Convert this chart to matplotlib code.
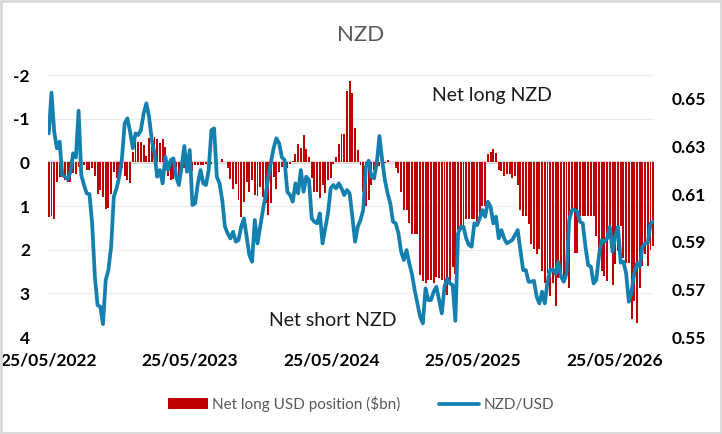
import numpy as np
import pandas as pd
import matplotlib
matplotlib.use("Agg")
import matplotlib.pyplot as plt
from matplotlib.patches import Rectangle
from matplotlib.ticker import FormatStrFormatter
import matplotlib.dates as mdates

plt.rcParams['font.family'] = ['Lato', 'DejaVu Sans']
plt.rcParams['axes.unicode_minus'] = False

# net long USD position vs NZD ($bn), weekly
pos_2022 = [1.26, 1.23, 1.29, 0.44, 0.34, 0.34, 0.40, 0.44, 0.44, 0.25,
            0.26, 0.10, 0.03, 0.05, 0.18, 0.17, 0.13, 0.32, 0.73, 0.64,
            0.80, 1.07, 1.05, 0.72, 0.23, 0.36, 0.22, 0.13, 0.32, 0.41,
            0.48, -0.24, -0.46, -0.47, -0.47, -0.40, -0.15, -0.56, -0.67, -0.58,
            -0.54, -0.44, -0.54, -0.35, 0.31, 0.40]
pos_2023 = [0.38, 0.25, 0.37, 0.21, 0.14, 0.25, 0.29, 0.20, 0.05, 0.05,
            0.06, 0.06, 0.04, 0.04, 0.04, 0.00, 0.06, 0.00, -0.08, 0.00,
            0.14, 0.39, 0.62, 0.50, 0.86, 1.26, 0.90, 0.44, 0.69, 0.40,
            0.75, 0.77, 0.56, 0.79, 0.94, 1.20, 0.92, 0.33, 0.60, 0.21,
            0.10, 0.10, 0.14, 0.04, -0.04, -0.20, -0.42, -0.32, -0.63, -0.30,
            -0.13, 0.37, 0.67, 0.68, 0.82, 0.52, 0.70, 0.40, 0.37, 0.04,
            -0.13, -0.43, -0.66, -0.66, -1.63, -1.86, -1.58, -0.78, -0.28]
pos_2024 = [0.05, 0.67, 1.01, 0.86, 0.51, 0.17, 0.05, 0.09, 0.05, 0.02,
            -0.06, 0.00, 0.00, 0.13, 0.25, 0.67, 1.09, 1.09]
pos_2025 = [1.39, 1.65, 1.65, 1.65, 2.58, 2.71, 2.77, 2.70, 2.70, 2.77,
            2.62, 2.66, 2.70, 2.77, 3.04, 2.77, 2.39, 2.56, 1.55, 1.55,
            1.47, 1.30, 1.30, 1.30, 1.30, 1.39, 1.20, 1.01, 1.01, -0.18,
            -0.23, -0.31, -0.21, 0.17, 0.19, 0.31, 0.26, 0.26, 0.36, 0.31,
            0.51, 1.09, 1.24, 1.22]
pos_2026 = [1.42, 1.86, 1.99, 2.09, 1.99, 2.49, 2.76, 2.53, 3.06, 2.76,
            3.28, 2.64, 2.60, 2.64, 2.68, 2.87, 1.15, 2.07, 2.07, 1.22,
            1.22, 1.22, 1.22, 1.22, 1.22, 1.68, 2.14, 2.49, 2.60, 2.72,
            1.45, 2.80, 2.33, 2.03, 1.45, 2.18, 2.30, 2.30, 3.58, 3.18,
            3.69, 2.87, 2.37, 2.10, 2.37, 2.00, 1.92]

# NZD/USD spot, same weeks
fx_2022 = [0.6355, 0.6526, 0.6362, 0.6292, 0.6320, 0.6180, 0.6173, 0.6162, 0.6194, 0.6271,
           0.6254, 0.6450, 0.6180, 0.6138, 0.6103, 0.6100, 0.5977, 0.5753, 0.5634, 0.5627,
           0.5554, 0.5739, 0.5781, 0.5879, 0.6089, 0.6124, 0.6173, 0.6250, 0.6397, 0.6418,
           0.6362, 0.6292, 0.6355, 0.6348, 0.6369, 0.6439, 0.6481, 0.6425, 0.6327, 0.6271,
           0.6173, 0.6201, 0.6145, 0.6257, 0.6201, 0.6243]
fx_2023 = [0.6250, 0.6173, 0.6138, 0.6215, 0.6302, 0.6194, 0.6285, 0.6054, 0.6061, 0.6145,
           0.6201, 0.6145, 0.6138, 0.6201, 0.6369, 0.6376, 0.6173, 0.6145, 0.6075, 0.5963,
           0.5935, 0.5914, 0.5942, 0.5900, 0.5907, 0.5963, 0.5998, 0.5921, 0.5844, 0.5816,
           0.5991, 0.5893, 0.5963, 0.6033, 0.6096, 0.6173, 0.6236, 0.6296, 0.6334, 0.6313,
           0.6254, 0.6243, 0.6110, 0.6096]
fx_2024 = [0.6068, 0.6145, 0.6103, 0.6201, 0.6110, 0.6173, 0.6159, 0.5998, 0.5984, 0.5977,
           0.6019, 0.5893, 0.5956, 0.6019, 0.6124, 0.6138, 0.6124, 0.6145, 0.6124, 0.6096,
           0.6117, 0.6103, 0.6005, 0.5900, 0.5963, 0.5991, 0.6033, 0.6215, 0.6240, 0.6173,
           0.6166, 0.6229, 0.6344, 0.6243, 0.6159, 0.6103, 0.6061, 0.5984, 0.5977, 0.5935,
           0.5858, 0.5823, 0.5865]
fx_2025 = [0.5809, 0.5764, 0.5697, 0.5641, 0.5585, 0.5557, 0.5704, 0.5655, 0.5655, 0.5690,
           0.5711, 0.5655, 0.5599, 0.5711, 0.5746, 0.5725, 0.5718, 0.5568, 0.5935, 0.5963,
           0.5963, 0.5914, 0.5886, 0.5879, 0.5977, 0.5970, 0.5998, 0.6033, 0.6005, 0.6068,
           0.6047, 0.5977, 0.6005, 0.5914, 0.5949, 0.5914, 0.5893, 0.5900, 0.5907, 0.5928,
           0.5949, 0.5865, 0.5781, 0.5781]
fx_2026 = [0.5732, 0.5732, 0.5736, 0.5669, 0.5641, 0.5690, 0.5641, 0.5732, 0.5781, 0.5784,
           0.5764, 0.5816, 0.5753, 0.5732, 0.5767, 0.5991, 0.6033, 0.6033, 0.6026, 0.5984,
           0.5977, 0.5879, 0.5802, 0.5795, 0.5725, 0.5739, 0.5844, 0.5907, 0.5900, 0.5914,
           0.5963, 0.5858, 0.5921, 0.5963, 0.5812, 0.5816, 0.5767, 0.5648, 0.5690, 0.5767,
           0.5809, 0.5795, 0.5879, 0.5893, 0.5893, 0.5977, 0.5984]

positions = np.array(pos_2022 + pos_2023 + pos_2024 + pos_2025 + pos_2026)
nzdusd = np.array(fx_2022 + fx_2023 + fx_2024 + fx_2025 + fx_2026)
dates = pd.date_range("2022-05-25", periods=len(positions), freq="7D")

tick_dates = pd.to_datetime(["2022-05-25", "2023-05-25", "2024-05-25", "2025-05-25", "2026-05-25"])

fig = plt.figure(figsize=(7.22, 4.34), dpi=100)
ax = fig.add_axes([48/722, 1-337/434, (654-48)/722, (337-75)/434])

ax.bar(dates, positions, width=5, color="#C00000", zorder=2,
       label="Net long USD position ($bn)")
ax.set_ylim(4, -2)
ax.set_yticks(range(-2, 5))
ax.grid(axis='y', color='#EBEBEB', lw=0.8, zorder=0)
ax.axhline(0, color='#D6D6D6', lw=2.2, zorder=1)
ax.set_xticks(tick_dates)
ax.xaxis.set_major_formatter(mdates.DateFormatter("%d/%m/%Y"))
ax.set_xlim(dates[0] - pd.Timedelta(days=2), dates[-1] + pd.Timedelta(days=2))
for s in ax.spines.values():
    s.set_visible(False)
ax.tick_params(axis='y', length=0, pad=13, labelsize=12.5)
ax.tick_params(axis='x', length=0, pad=11, labelsize=12.5)
for lab in ax.get_xticklabels() + ax.get_yticklabels():
    lab.set_fontweight('bold')

ax2 = ax.twinx()
ax2.plot(dates, nzdusd, color="#1380B0", lw=2.7, solid_joinstyle='round',
         solid_capstyle='round', label="NZD/USD", zorder=3)
ax2.set_ylim(0.55, 0.66)
ax2.set_yticks(np.arange(0.55, 0.66, 0.02))
ax2.yaxis.set_major_formatter(FormatStrFormatter('%.2f'))
for s in ax2.spines.values():
    s.set_visible(False)
ax2.tick_params(axis='y', length=0, pad=13, labelsize=12.5)
for lab in ax2.get_yticklabels():
    lab.set_fontweight('bold')

fig.text(0.5, 1-35/434, "NZD", ha='center', va='center', fontsize=16, color='#595959')
fig.text(492/722, 1-95/434, "Net long NZD", ha='center', va='center', fontsize=14, color='#1a1a1a')
fig.text(333/722, 1-320/434, "Net short NZD", ha='center', va='center', fontsize=14, color='#1a1a1a')

h1, l1 = ax.get_legend_handles_labels()
h2, l2 = ax2.get_legend_handles_labels()
fig.legend(h1 + h2, l1 + l2, loc='center', bbox_to_anchor=(0.5, 1-404/434), ncol=2,
           frameon=False, fontsize=11, labelcolor='#595959', handlelength=2.6,
           columnspacing=2.5, handletextpad=0.3)

fig.patches.append(Rectangle((0.001, 0.002), 0.998, 0.996, transform=fig.transFigure,
                             fill=False, ec='#D9D9D9', lw=2))

plt.savefig("out.png", dpi=100)
plt.close()
